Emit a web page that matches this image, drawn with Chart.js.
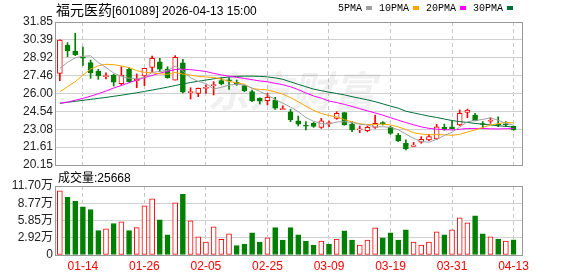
<!DOCTYPE html>
<html><head><meta charset="utf-8">
<script src="https://cdn.jsdelivr.net/npm/chart.js@4.4.1/dist/chart.umd.min.js"></script>
<style>
html,body{margin:0;padding:0;background:#fff;}
#wrap{position:relative;width:578px;height:276px;overflow:hidden;font-family:"Liberation Sans",Arial,"Noto Sans CJK SC",sans-serif;color:#000;}
canvas{position:absolute;left:0;}
#c1{top:0;}
#c2{top:166px;}
#title{position:absolute;left:56px;top:1px;font-size:12px;white-space:nowrap;line-height:16px;}
#title .cn{font-family:"Noto Sans CJK SC",sans-serif;font-size:14px;}
#legend{position:absolute;left:338px;top:2px;font-family:"Liberation Mono",monospace;font-size:10px;line-height:14px;white-space:nowrap;}
#legend .it{display:inline-block;margin-right:7px;}
#legend .sq{display:inline-block;width:6px;height:4px;margin-left:4px;vertical-align:1px;}
#vollabel{position:absolute;left:58px;top:169px;font-size:12px;line-height:16px;white-space:nowrap;}
#vollabel .cn{font-family:"Noto Sans CJK SC",sans-serif;}
</style>
</head><body>
<div id="wrap">
<canvas id="c1" width="578" height="176"></canvas>
<canvas id="c2" width="578" height="110"></canvas>
<div id="title"><span class="cn">福元医药</span>[601089] 2026-04-13 15:00</div>
<div id="legend"></div>
<div id="vollabel"></div>
</div>
<script>
// ---- data ----
const dates = ['01-09','01-12','01-13','01-14','01-15','01-16','01-19','01-20','01-21','01-22',
 '01-23','01-26','01-27','01-28','01-29','01-30','02-02','02-03','02-04','02-05',
 '02-06','02-09','02-10','02-11','02-12','02-13','02-24','02-25','02-26','02-27',
 '03-02','03-03','03-04','03-05','03-06','03-09','03-10','03-11','03-12','03-13',
 '03-16','03-17','03-18','03-19','03-20','03-23','03-24','03-25','03-26','03-27',
 '03-30','03-31','04-01','04-02','04-03','04-07','04-08','04-09','04-10','04-13'];
const tickDates = ['01-14','01-26','02-05','02-25','03-09','03-19','03-31','04-13'];

const opens = [27.65,29.97,29.48,28.95,28.52,27.84,27.38,27.51,26.80,27.98,
 27.02,27.43,28.14,28.60,28.00,27.10,28.50,26.07,26.01,26.42,
 26.65,27.05,27.08,26.92,26.64,26.15,25.63,25.41,25.47,24.68,
 24.51,23.77,23.36,23.56,23.23,23.53,23.97,24.43,23.50,23.03,
 22.96,23.23,23.58,23.23,22.60,21.92,21.68,22.01,22.20,22.28,
 23.23,23.28,23.42,24.46,24.24,23.50,23.73,23.48,23.45,23.32];
const highs = [30.40,30.16,30.93,29.80,28.74,27.98,27.70,27.57,28.19,28.11,
 27.60,28.06,29.07,28.88,28.19,29.10,28.80,26.47,26.45,26.70,
 26.97,27.29,27.29,27.10,26.70,26.29,25.65,26.01,25.69,25.00,
 24.71,24.16,23.70,23.64,23.97,23.75,24.51,24.45,23.70,23.34,
 23.34,24.24,23.70,23.34,22.74,22.20,22.00,22.47,22.66,23.48,
 23.50,23.75,24.65,24.73,24.38,23.70,24.02,24.10,23.70,23.35];
const lows = [27.05,29.01,29.10,28.30,27.24,27.16,27.19,26.61,26.70,26.92,
 26.47,26.64,27.78,27.78,27.24,27.10,26.05,25.55,25.74,26.01,
 25.88,26.70,26.34,26.67,26.15,25.33,25.14,25.06,24.70,24.68,
 23.70,23.34,23.01,23.23,23.15,23.28,23.89,23.40,22.87,22.79,
 22.87,23.15,23.42,22.66,22.06,21.38,21.68,21.93,22.14,22.25,
 23.00,23.10,23.37,24.02,23.75,23.15,23.56,23.28,23.28,23.00];
const closes = [30.38,29.48,29.15,28.90,27.70,27.43,27.46,26.92,27.51,26.97,
 27.16,28.06,28.88,28.00,27.29,28.96,26.10,26.12,26.42,26.50,
 26.72,26.78,27.03,26.75,26.23,25.42,25.38,25.69,24.79,24.72,
 23.83,23.50,23.32,23.30,23.77,23.58,24.38,23.42,23.01,23.08,
 23.23,23.56,23.54,22.74,22.11,21.46,21.79,22.25,22.47,23.28,
 23.01,23.12,24.38,24.65,23.77,23.46,23.78,23.40,23.43,23.01];
const volumes = [109000,97600,90800,81700,77200,41400,44300,53400,56200,41400,
 46500,83400,95400,59600,34100,88600,102700,57900,30700,22100,
 47700,26700,35800,15900,18700,37500,22100,29000,46500,25500,
 46500,34100,23800,17000,23800,18700,27200,40900,25500,17000,
 25500,46000,29000,37500,25500,42600,22100,17000,22100,39200,
 34100,42600,63000,54500,66400,35800,30700,27200,23800,25668];

const ma5 = [28.06,28.55,28.92,29.05,29.08,28.53,28.13,27.68,27.40,27.26,
 27.20,27.32,27.72,27.81,27.88,28.24,27.85,27.29,26.98,26.82,
 26.37,26.51,26.69,26.76,26.70,26.45,26.17,25.89,25.50,25.20,
 24.89,24.51,24.03,23.73,23.54,23.49,23.67,23.69,23.63,23.49,
 23.42,23.26,23.28,23.23,23.04,22.68,22.33,22.07,22.02,22.25,
 22.56,22.83,23.25,23.69,23.79,23.88,24.01,23.81,23.57,23.42];
const ma10 = [26.15,26.56,26.97,27.51,28.00,28.27,28.39,28.36,28.25,28.12,
 27.87,27.73,27.70,27.61,27.57,27.72,27.59,27.51,27.40,27.35,
 27.31,27.18,26.99,26.87,26.76,26.40,26.34,26.29,26.13,25.95,
 25.66,25.33,24.96,24.62,24.37,24.19,24.09,23.86,23.68,23.52,
 23.46,23.47,23.49,23.43,23.27,23.05,22.79,22.68,22.62,22.64,
 22.62,22.58,22.66,22.85,23.02,23.22,23.42,23.53,23.63,23.60];
const ma20 = [25.20,25.30,25.45,25.60,25.78,25.98,26.20,26.45,26.65,26.88,
 27.10,27.30,27.48,27.66,27.82,27.96,27.98,27.95,27.88,27.80,
 27.65,27.52,27.42,27.32,27.23,27.13,27.03,26.96,26.83,26.72,
 26.55,26.32,26.04,25.80,25.62,25.38,25.26,25.11,24.94,24.76,
 24.58,24.41,24.23,24.02,23.82,23.62,23.44,23.27,23.15,23.08,
 23.04,23.02,23.07,23.14,23.14,23.14,23.11,23.10,23.12,23.12];
const ma30 = [25.20,25.28,25.36,25.44,25.52,25.60,25.68,25.77,25.86,25.96,
 26.06,26.17,26.28,26.40,26.52,26.65,26.78,26.90,27.00,27.10,
 27.20,27.28,27.35,27.40,27.42,27.42,27.40,27.36,27.28,27.16,
 26.95,26.75,26.55,26.36,26.23,26.11,26.00,25.89,25.74,25.61,
 25.48,25.33,25.15,24.97,24.80,24.55,24.41,24.28,24.15,24.04,
 23.91,23.79,23.70,23.63,23.55,23.49,23.43,23.36,23.31,23.25];

const maNames = ['5PMA','10PMA','20PMA','30PMA'];
const priceTickLabels = ['20.15','21.61','23.08','24.54','26.00','27.46','28.92','30.39','31.85'];
const volTickValues = [0,29250,58500,87750,117000];
const volTickLabels = ['0','2.92万','5.85万','8.77万','11.70万'];

// ---- styling ----
const RED = '#ff0000', GREEN = '#008000';
const maColors = ['#a0a0a0','#ffa500','#ff00ff','#00703a'];
const tickFont = {family:'"Liberation Sans", Arial, "Noto Sans CJK SC", sans-serif', size:12};
const tickIdx = tickDates.map(d => dates.indexOf(d));
const N = dates.length;
const XMIN = -0.5, XMAX = N + 0.1;

const isUp = i => closes[i] >= opens[i];
const volUp = i => i === 0 ? closes[0] >= opens[0] : closes[i] >= closes[i-1];

// legend + volume label as real text
const lg = document.getElementById('legend');
maNames.forEach((n,k) => {
  const s = document.createElement('span'); s.className = 'it';
  s.textContent = n;
  const q = document.createElement('span'); q.className = 'sq'; q.style.background = maColors[k];
  s.appendChild(q); lg.appendChild(s);
});
document.getElementById('vollabel').innerHTML = '<span class="cn">成交量</span>:' + volumes[N-1];

const framePlugin = {
  id: 'frame',
  beforeDatasetsDraw(chart, args, opts) {
    if (!opts.watermark) return;
    const ctx = chart.ctx, a = chart.chartArea;
    ctx.save();
    ctx.font = 'italic bold 42px "Noto Sans CJK SC", sans-serif';
    ctx.fillStyle = 'rgba(0,0,0,0.06)';
    ctx.textAlign = 'center'; ctx.textBaseline = 'middle';
    ctx.fillText('东方财富', a.left + (a.right - a.left) * 0.505, a.top + (a.bottom - a.top) * 0.48);
    ctx.restore();
  },
  afterDraw(chart) {
    const ctx = chart.ctx, a = chart.chartArea;
    ctx.save();
    ctx.strokeStyle = '#999'; ctx.lineWidth = 1;
    ctx.strokeRect(Math.round(a.left) - 0.5, Math.round(a.top) + 0.5,
                   Math.round(a.right - a.left) + 1, Math.round(a.bottom - a.top));
    ctx.restore();
  }
};

function xScale(showLabels) {
  return {
    type: 'linear', min: XMIN, max: XMAX, offset: false,
    afterBuildTicks: s => { s.ticks = tickIdx.map(v => ({value: v})); },
    ticks: {display: showLabels, autoSkip: false, maxRotation: 0, padding: 4,
            color: RED, font: tickFont, callback: v => dates[v]},
    grid: {color: '#c8c8c8', drawTicks: false, offset: false},
    border: {display: false, dash: [4, 3]},
    afterFit: s => { s.height = showLabels ? 21 : 0; }
  };
}

function yScale(min, max, values, labels) {
  return {
    min: min, max: max,
    afterBuildTicks: s => { s.ticks = values.map(v => ({value: v})); },
    ticks: {callback: (v, i) => labels[i], font: tickFont, color: '#222', padding: 3, autoSkip: false},
    grid: {color: '#d0d0d0', drawTicks: false},
    border: {display: false},
    afterFit: s => { s.width = 56; }
  };
}

// ---- price chart ----
const maDatasets = [ma5, ma10, ma20, ma30].map((arr, k) => ({
  type: 'line', label: maNames[k],
  data: arr.map((v, i) => ({x: i, y: v})),
  borderColor: maColors[k], borderWidth: 1, pointRadius: 0, tension: 0, order: 0
}));

new Chart(document.getElementById('c1'), {
  type: 'bar',
  data: {datasets: [
    ...maDatasets,
    {type: 'bar', label: 'body',
     data: opens.map((o, i) => ({x: i, y: [o, closes[i]]})),
     backgroundColor: c => isUp(c.dataIndex) ? '#ffffff' : GREEN,
     borderColor: c => isUp(c.dataIndex) ? RED : GREEN,
     borderWidth: 1, borderSkipped: false, barThickness: 5, minBarLength: 1,
     grouped: false, order: 1},
    {type: 'bar', label: 'wick',
     data: lows.map((l, i) => ({x: i, y: [l, highs[i]]})),
     backgroundColor: c => isUp(c.dataIndex) ? RED : GREEN,
     borderWidth: 0, barThickness: 1, grouped: false, order: 2}
  ]},
  options: {
    responsive: false, animation: false, events: [],
    layout: {padding: {left: 0, right: 56, top: 22, bottom: 11}},
    plugins: {legend: {display: false}, tooltip: {enabled: false}, frame: {watermark: true}},
    scales: {
      x: xScale(false),
      y: yScale(20.15, 31.85, priceTickLabels.map(t => parseFloat(t)), priceTickLabels)
    }
  },
  plugins: [framePlugin]
});

// ---- volume chart ----
new Chart(document.getElementById('c2'), {
  type: 'bar',
  data: {datasets: [{
    label: 'volume',
    data: volumes.map((v, i) => ({x: i, y: v})),
    backgroundColor: c => volUp(c.dataIndex) ? '#ffffff' : GREEN,
    borderColor: c => volUp(c.dataIndex) ? RED : GREEN,
    borderWidth: 1, borderSkipped: false, barThickness: 5, grouped: false
  }]},
  options: {
    responsive: false, animation: false, events: [],
    layout: {padding: {left: 0, right: 56, top: 20, bottom: 0}},
    plugins: {legend: {display: false}, tooltip: {enabled: false}, frame: {watermark: false}},
    scales: {
      x: xScale(true),
      y: yScale(0, 117000, volTickValues, volTickLabels)
    }
  },
  plugins: [framePlugin]
});
</script>
</body></html>
